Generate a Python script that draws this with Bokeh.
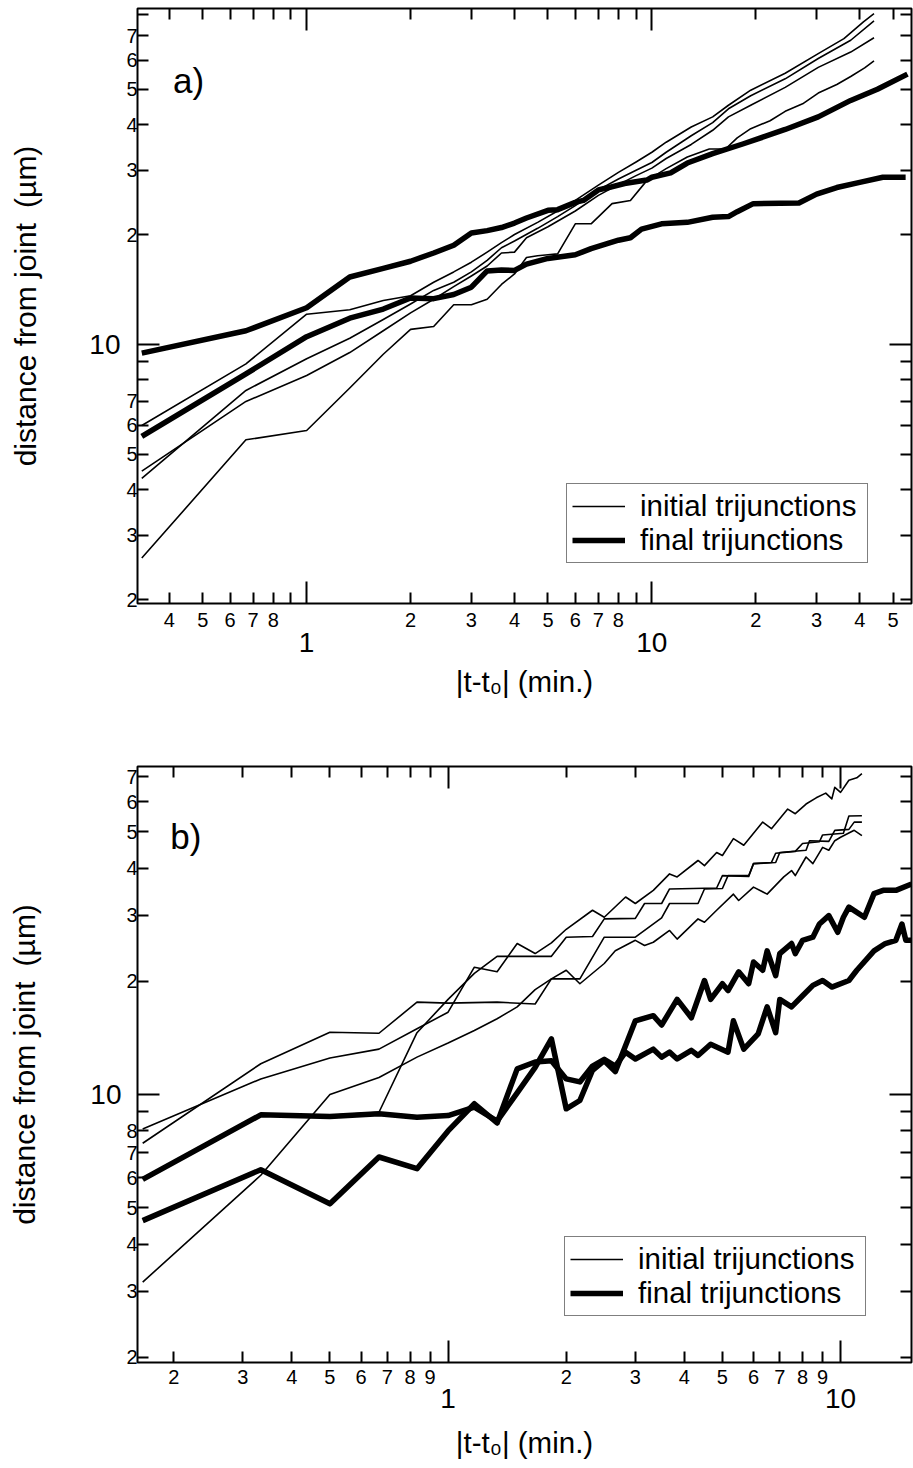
from bokeh.plotting import figure
from bokeh.models import LogAxis, FixedTicker, Legend, LegendItem, Label, Range1d
from bokeh.layouts import column
from bokeh.embed import file_html
from bokeh.resources import INLINE

FONT = "Liberation Sans"

# ---------------- panel a data ----------------
a_init_A_t = [0.333, 0.667, 1.0, 1.333, 1.667, 2.0, 2.333, 2.667, 3.0, 3.333, 3.667, 4.0, 4.667, 5.333, 6.0, 7.0, 8.0, 9.0, 10.0, 11.0, 13.0, 15.0, 16.667, 19.333, 24.333, 30.333, 36.0, 41.0, 44.0]
a_init_A_d = [6.0, 8.85, 12.1, 12.45, 13.2, 13.6, 14.8, 15.8, 16.8, 17.9, 19.0, 20.0, 21.6, 23.2, 24.8, 27.3, 29.6, 31.6, 33.6, 35.8, 39.4, 42.0, 45.2, 49.7, 55.3, 62.6, 68.8, 76.5, 80.5]

a_init_B_t = [0.333, 0.667, 1.0, 1.333, 1.667, 2.0, 2.333, 2.667, 3.0, 3.333, 3.667, 4.0, 4.667, 5.333, 6.0, 7.0, 8.0, 9.0, 10.0, 11.0, 13.0, 15.0, 16.667, 19.333, 24.333, 30.333, 37.667, 44.0]
a_init_B_d = [4.3, 7.48, 9.14, 10.4, 11.7, 12.9, 14.06, 14.8, 15.8, 17.0, 18.4, 19.2, 20.8, 22.4, 24.0, 26.5, 28.4, 30.0, 31.5, 33.6, 37.3, 40.5, 44.2, 48.0, 53.4, 60.7, 68.1, 77.0]

a_init_C_t = [0.333, 0.667, 1.0, 1.333, 1.667, 2.0, 2.333, 2.667, 3.0, 3.333, 3.667, 4.0, 4.333, 5.0, 6.0, 7.0, 8.0, 9.0, 10.0, 11.0, 13.0, 15.0, 16.667, 19.333, 24.333, 30.333, 37.667, 44.0]
a_init_C_d = [4.5, 6.98, 8.22, 9.5, 10.9, 12.2, 13.3, 14.4, 15.4, 16.4, 17.8, 17.9, 19.6, 21.0, 23.2, 25.6, 27.4, 29.0, 30.4, 32.3, 35.3, 38.6, 42.0, 45.2, 50.6, 57.4, 63.2, 69.2]

a_init_D_t = [0.333, 0.667, 1.0, 1.333, 1.667, 2.0, 2.333, 2.667, 3.0, 3.333, 3.667, 4.0, 4.333, 4.667, 5.0, 5.333, 6.0, 6.667, 7.667, 8.667, 9.667, 11.0, 12.667, 14.667, 16.333, 17.667, 19.333, 22.0, 24.333, 27.333, 30.333, 34.333, 37.667, 41.333, 44.0]
a_init_D_d = [2.6, 5.48, 5.81, 7.6, 9.4, 11.0, 11.2, 12.85, 12.85, 13.3, 14.6, 15.6, 17.3, 17.5, 17.6, 17.7, 21.4, 21.4, 24.3, 24.8, 28.1, 30.3, 32.6, 34.3, 34.3, 36.8, 39.0, 41.0, 43.5, 45.6, 48.8, 51.5, 54.2, 57.2, 59.8]

a_final_1_t = [0.333, 0.667, 1.0, 1.333, 1.667, 2.0, 2.333, 2.667, 3.0, 3.333, 3.667, 4.0, 4.333, 5.0, 5.333, 6.0, 6.333, 7.0, 7.5, 8.333, 9.667, 10.0, 11.333, 12.667, 15.0, 18.333, 24.333, 30.333, 37.667, 45.0, 55.0]
a_final_1_d = [9.47, 10.9, 12.6, 15.3, 16.15, 16.9, 17.8, 18.7, 20.2, 20.5, 20.9, 21.5, 22.2, 23.3, 23.4, 24.5, 24.8, 26.5, 26.9, 27.6, 28.2, 28.7, 29.5, 31.4, 33.3, 35.4, 38.8, 42.0, 46.6, 50.0, 55.0]

a_final_2_t = [0.333, 0.667, 1.0, 1.333, 1.667, 2.0, 2.333, 2.667, 3.0, 3.333, 3.667, 4.0, 4.333, 5.0, 6.0, 6.667, 8.0, 8.667, 9.333, 10.667, 12.667, 15.0, 16.667, 17.667, 19.667, 26.667, 30.0, 34.333, 40.0, 46.667, 54.333]
a_final_2_d = [5.6, 8.31, 10.5, 11.8, 12.5, 13.4, 13.35, 13.7, 14.35, 15.9, 16.0, 15.95, 16.6, 17.2, 17.6, 18.3, 19.3, 19.6, 20.7, 21.4, 21.6, 22.3, 22.4, 23.1, 24.3, 24.4, 25.8, 26.9, 27.8, 28.7, 28.7]

# ---------------- panel b data ----------------
b_init_P_t = [0.1667, 0.3333, 0.5, 0.6667, 0.8333, 1.0, 1.3333, 1.6667, 1.8333, 2.1667, 2.5, 3.0, 3.5, 3.6667, 4.3333, 4.5, 5.0, 5.1667, 5.8333, 6.0, 6.6667, 6.8333, 7.6667, 8.0, 8.8333, 9.0, 10.1667, 10.5, 11.3333]
b_init_P_d = [7.42, 12.07, 14.64, 14.55, 17.6, 17.5, 17.6, 17.4, 20.3, 20.3, 26.2, 26.2, 29.5, 32.2, 32.2, 35.2, 35.3, 38.2, 38.2, 41.1, 41.4, 43.8, 44.3, 46.5, 47.0, 49.0, 49.5, 55.0, 55.1]

b_init_Q_t = [0.1667, 0.3333, 0.5, 0.6667, 0.8333, 1.0, 1.1667, 1.3333, 1.5, 1.6667, 1.8333, 2.0, 2.3333, 2.5, 2.8333, 3.0, 3.3333, 3.6667, 3.8333, 4.3333, 4.5, 4.8333, 5.0, 5.3333, 5.6667, 6.3333, 6.6667, 7.3333, 7.6667, 8.1667, 8.6667, 9.1667, 9.5, 9.6667, 10.0, 10.5, 11.0, 11.3333]
b_init_Q_d = [8.1, 11.0, 12.5, 13.2, 14.96, 16.55, 21.8, 21.2, 25.2, 23.7, 25.3, 27.5, 30.9, 29.6, 33.5, 32.2, 34.9, 38.6, 37.9, 41.9, 40.6, 44.0, 43.2, 47.9, 46.0, 53.0, 50.9, 57.4, 55.8, 59.2, 61.5, 63.3, 61.1, 65.6, 63.6, 68.5, 69.5, 71.3]

b_init_R_t = [0.1667, 0.3333, 0.5, 0.6667, 0.8333, 1.0, 1.1667, 1.3333, 1.5, 1.6667, 1.8333, 2.0, 2.1667, 2.5, 2.6667, 3.0, 3.1667, 3.3333, 3.6667, 3.8333, 4.3333, 4.5, 4.8333, 5.3333, 5.5, 6.0, 6.5, 7.1667, 7.5, 7.6667, 8.1667, 8.5, 9.0, 9.3333, 9.6667, 10.0, 10.8333, 11.3333]
b_init_R_d = [3.17, 6.1, 10.0, 11.1, 12.57, 13.7, 14.8, 15.9, 17.1, 19.0, 20.3, 21.4, 19.7, 22.3, 24.1, 25.7, 24.9, 25.4, 27.3, 25.9, 29.3, 28.7, 30.9, 34.1, 32.8, 35.6, 34.1, 37.9, 39.4, 38.2, 42.8, 41.1, 45.4, 44.6, 47.3, 48.3, 50.4, 48.8]

b_init_S_t = [0.1667, 0.3333, 0.5, 0.6667, 0.8333, 1.0, 1.1667, 1.3333, 1.8333, 2.0, 2.3333, 2.5, 3.0, 3.1667, 3.5, 3.6667, 4.8333, 5.0, 5.8333, 6.0, 6.8333, 7.0, 8.1667, 8.3333, 9.3333, 9.6667, 10.5, 10.8333, 11.3333]
b_init_S_d = [5.95, 8.83, 8.8, 8.97, 14.6, 17.9, 21.0, 23.3, 23.3, 26.2, 26.3, 29.3, 29.4, 32.2, 32.2, 35.2, 35.4, 38.2, 38.0, 41.1, 41.4, 44.0, 44.6, 47.3, 47.1, 50.4, 50.7, 53.0, 53.0]

b_final_1_t = [0.1667, 0.3333, 0.5, 0.6667, 0.8333, 1.0, 1.1667, 1.3333, 1.5, 1.6667, 1.8333, 2.0, 2.1667, 2.3333, 2.5, 2.6667, 3.0, 3.3333, 3.5, 3.8333, 4.1667, 4.5, 4.6667, 5.0, 5.1667, 5.5, 5.8333, 6.0, 6.3333, 6.5, 6.8333, 7.0, 7.5, 7.6667, 8.0, 8.5, 8.8333, 9.3333, 9.8333, 10.1667, 10.5, 11.5, 12.1667, 12.8333, 13.8333, 15.1667]
b_final_1_d = [5.95, 8.83, 8.74, 8.89, 8.7, 8.79, 9.25, 8.5, 10.1, 11.8, 14.06, 9.16, 9.64, 11.6, 12.3, 11.5, 15.7, 16.2, 15.3, 17.9, 16.0, 20.1, 17.9, 19.7, 18.9, 21.2, 19.7, 22.5, 21.4, 24.1, 20.7, 23.7, 25.2, 23.7, 25.7, 26.2, 28.4, 29.9, 27.0, 29.6, 31.5, 29.6, 34.2, 34.9, 34.9, 36.3]

b_final_2_t = [0.1667, 0.3333, 0.5, 0.6667, 0.8333, 1.0, 1.1667, 1.3333, 1.5, 1.6667, 1.8333, 2.0, 2.1667, 2.3333, 2.5, 2.6667, 2.8333, 3.0, 3.3333, 3.5, 3.6667, 3.8333, 4.1667, 4.3333, 4.6667, 5.1667, 5.3333, 5.6667, 6.1667, 6.5, 6.8333, 7.0, 7.5, 8.0, 8.5, 9.0, 9.5, 10.5, 11.0, 12.1667, 13.0, 13.8333, 14.3333, 14.6667, 15.1667]
b_final_2_d = [4.62, 6.31, 5.12, 6.82, 6.35, 8.0, 9.45, 8.4, 11.7, 12.2, 12.3, 11.0, 10.8, 11.9, 12.4, 11.9, 12.96, 12.43, 13.2, 12.57, 12.96, 12.43, 13.1, 12.7, 13.6, 12.96, 15.7, 13.2, 14.5, 17.1, 14.6, 17.9, 17.1, 18.3, 19.5, 20.1, 19.3, 20.1, 21.4, 24.1, 25.2, 25.7, 28.4, 25.7, 25.7]

# ---------------- ticks ----------------
a_x_lab_ticks = [0.4, 0.5, 0.6, 0.7, 0.8, 2, 3, 4, 5, 6, 7, 8, 20, 30, 40, 50]
a_x_lab_text = ["4", "5", "6", "7", "8", "2", "3", "4", "5", "6", "7", "8", "2", "3", "4", "5"]
a_x_unlab_ticks = [0.9, 9]
a_x_decades = [1, 10]
a_x_decade_text = ["1", "10"]
a_y_lab_ticks = [2, 3, 4, 5, 6, 7, 20, 30, 40, 50, 60, 70]
a_y_lab_text = ["2", "3", "4", "5", "6", "7", "2", "3", "4", "5", "6", "7"]
a_y_unlab_ticks = [8, 9, 80]
a_y_decades = [10]
a_y_decade_text = ["10"]

b_x_lab_ticks = [0.2, 0.3, 0.4, 0.5, 0.6, 0.7, 0.8, 0.9, 2, 3, 4, 5, 6, 7, 8, 9]
b_x_lab_text = ["2", "3", "4", "5", "6", "7", "8", "9", "2", "3", "4", "5", "6", "7", "8", "9"]
b_x_unlab_ticks = []
b_x_decades = [1, 10]
b_x_decade_text = ["1", "10"]
b_y_lab_ticks = [2, 3, 4, 5, 6, 7, 8, 20, 30, 40, 50, 60, 70]
b_y_lab_text = ["2", "3", "4", "5", "6", "7", "8", "2", "3", "4", "5", "6", "7"]
b_y_unlab_ticks = [9]
b_y_decades = [10]
b_y_decade_text = ["10"]

X_TITLE = "|t-t\u2080| (min.)"
Y_TITLE = "distance from joint\u2002(\u00b5m)"


def style_ticks(ax, tin_major, tin_minor):
    ax.major_tick_in = tin_major
    ax.major_tick_out = 0
    ax.minor_tick_in = tin_minor
    ax.minor_tick_out = 0
    ax.major_tick_line_color = "black" if tin_major > 0 else None
    ax.minor_tick_line_color = "black" if tin_minor > 0 else None
    ax.major_tick_line_width = 2
    ax.minor_tick_line_width = 2
    ax.axis_line_color = None
    ax.major_label_text_font = FONT
    ax.major_label_text_color = "black"


def hide_labels(ax):
    ax.major_label_text_font_size = "1px"
    ax.major_label_text_alpha = 0
    ax.major_label_standoff = 0


def make_panel(width, height, borders, xr, yr, xt, yt, curves_thin, curves_thick,
               tag, tag_pos, legend_loc, std):
    bl, br, bt, bb = borders
    p = figure(width=width, height=height, x_axis_type="log", y_axis_type="log",
               x_range=Range1d(*xr), y_range=Range1d(*yr),
               output_backend="svg", toolbar_location=None,
               min_border_left=bl, min_border_right=br,
               min_border_top=bt, min_border_bottom=bb)
    p.xgrid.visible = False
    p.ygrid.visible = False
    p.outline_line_color = "black"
    p.outline_line_width = 2
    p.background_fill_color = "white"
    p.border_fill_color = "white"

    x_lab, x_txt, x_unlab, x_dec, x_dec_txt = xt
    y_lab, y_txt, y_unlab, y_dec, y_dec_txt = yt

    # ---- bottom: 1) long decade ticks, 2) small labelled ticks, 3) decade labels
    x1 = p.xaxis[0]
    x1.ticker = FixedTicker(ticks=x_dec, minor_ticks=[])
    style_ticks(x1, 22, 0)
    hide_labels(x1)

    x2 = LogAxis(ticker=FixedTicker(ticks=x_lab, minor_ticks=x_unlab))
    x2.major_label_overrides = {float(k): v for k, v in zip(x_lab, x_txt)}
    style_ticks(x2, 11, 11)
    x2.major_label_text_font_size = "20px"
    x2.major_label_standoff = std[0]
    p.add_layout(x2, "below")

    x3 = LogAxis(ticker=FixedTicker(ticks=x_dec, minor_ticks=[]))
    x3.major_label_overrides = {float(k): v for k, v in zip(x_dec, x_dec_txt)}
    style_ticks(x3, 0, 0)
    x3.major_label_text_font_size = "28px"
    x3.major_label_standoff = std[1]
    x3.axis_label = X_TITLE
    x3.axis_label_text_font = FONT
    x3.axis_label_text_font_size = "29.5px"
    x3.axis_label_text_font_style = "normal"
    x3.axis_label_text_color = "black"
    x3.axis_label_standoff = std[2]
    p.add_layout(x3, "below")

    # ---- left: 1) long decade ticks, 2) small labelled ticks, 3) decade labels
    y1 = p.yaxis[0]
    y1.ticker = FixedTicker(ticks=y_dec, minor_ticks=[])
    style_ticks(y1, 22, 0)
    hide_labels(y1)

    y2 = LogAxis(ticker=FixedTicker(ticks=y_lab, minor_ticks=y_unlab))
    y2.major_label_overrides = {float(k): v for k, v in zip(y_lab, y_txt)}
    style_ticks(y2, 11, 11)
    y2.major_label_text_font_size = "20px"
    y2.major_label_standoff = 0
    p.add_layout(y2, "left")

    y3 = LogAxis(ticker=FixedTicker(ticks=y_dec, minor_ticks=[]))
    y3.major_label_overrides = {float(k): v for k, v in zip(y_dec, y_dec_txt)}
    style_ticks(y3, 0, 0)
    y3.major_label_text_font_size = "28px"
    y3.major_label_standoff = std[3]
    y3.axis_label = Y_TITLE
    y3.axis_label_text_font = FONT
    y3.axis_label_text_font_size = "30px"
    y3.axis_label_text_font_style = "normal"
    y3.axis_label_text_color = "black"
    y3.axis_label_standoff = std[4]
    p.add_layout(y3, "left")

    # ---- mirrored top / right ticks
    xtop = LogAxis(ticker=FixedTicker(ticks=x_dec, minor_ticks=x_lab + x_unlab))
    style_ticks(xtop, 22, 11)
    hide_labels(xtop)
    p.add_layout(xtop, "above")

    yright = LogAxis(ticker=FixedTicker(ticks=y_dec, minor_ticks=y_lab + y_unlab))
    style_ticks(yright, 22, 11)
    hide_labels(yright)
    p.add_layout(yright, "right")

    thin_r = None
    for t, d in curves_thin:
        r = p.line(t, d, line_color="black", line_width=1.6, line_join="round")
        thin_r = thin_r or r
    thick_r = None
    for t, d in curves_thick:
        r = p.line(t, d, line_color="black", line_width=5.5, line_join="round")
        thick_r = thick_r or r

    legend = Legend(items=[LegendItem(label="initial trijunctions", renderers=[thin_r]),
                           LegendItem(label="final trijunctions", renderers=[thick_r])],
                    location=legend_loc)
    legend.border_line_color = "black"
    legend.border_line_width = 1.5
    legend.background_fill_color = "white"
    legend.background_fill_alpha = 1
    legend.padding = 5
    legend.spacing = 0
    legend.margin = 0
    legend.glyph_width = 53
    legend.glyph_height = 30
    legend.label_width = 222
    legend.label_height = 30
    legend.label_standoff = 15
    legend.label_text_font = FONT
    legend.label_text_font_size = "29.5px"
    legend.label_text_color = "black"
    p.add_layout(legend)

    p.add_layout(Label(x=tag_pos[0], y=tag_pos[1], text=tag, text_font=FONT,
                       text_font_size="35px", text_baseline="alphabetic",
                       text_color="black"))
    return p


# std = (small x label standoff, decade x label standoff, x title standoff,
#        decade y label standoff, y title standoff)
pa = make_panel(913, 716, (133, 2, 8, 113), (0.3236, 56.5), (1.952, 83.2),
                (a_x_lab_ticks, a_x_lab_text, a_x_unlab_ticks, a_x_decades, a_x_decade_text),
                (a_y_lab_ticks, a_y_lab_text, a_y_unlab_ticks, a_y_decades, a_y_decade_text),
                [(a_init_A_t, a_init_A_d), (a_init_B_t, a_init_B_d),
                 (a_init_C_t, a_init_C_d), (a_init_D_t, a_init_D_d)],
                [(a_final_1_t, a_final_1_d), (a_final_2_t, a_final_2_d)],
                "a)", (0.41, 52.8), (429, 40), (9, 3, 10, 3, 44))

pb = make_panel(913, 752, (137, 1, 50, 106), (0.1617, 15.16), (1.938, 74.5),
                (b_x_lab_ticks, b_x_lab_text, b_x_unlab_ticks, b_x_decades, b_x_decade_text),
                (b_y_lab_ticks, b_y_lab_text, b_y_unlab_ticks, b_y_decades, b_y_decade_text),
                [(b_init_P_t, b_init_P_d), (b_init_Q_t, b_init_Q_d),
                 (b_init_R_t, b_init_R_d), (b_init_S_t, b_init_S_d)],
                [(b_final_1_t, b_final_1_d), (b_final_2_t, b_final_2_d)],
                "b)", (0.196, 48.5), (427, 46), (7, 2, 15, 2, 46))

layout = column(pa, pb)
open("out.html", "w").write(file_html(layout, INLINE))
